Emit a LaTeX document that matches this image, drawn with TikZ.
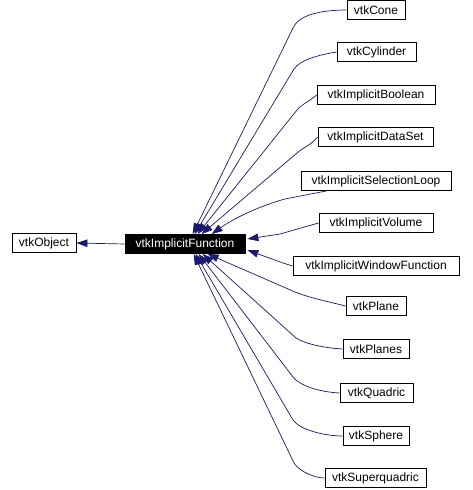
\documentclass[tikz,border=0pt]{standalone}
\usepackage{fontspec}
\setmainfont{Liberation Sans}
\usepackage{tikz}
\usetikzlibrary{arrows.meta}
\usetikzlibrary{calc}

\definecolor{edgeblue}{RGB}{25,25,112}

\begin{document}
\begin{tikzpicture}[x=1pt, y=-1pt,
        cls/.style={draw, line width=0.8pt, minimum height=19pt, inner sep=0pt, font=\fontsize{12}{14}\selectfont},
        edge/.style={draw=edgeblue, line width=0.7pt, {Triangle[length=11pt,width=7.5pt]}-}]
        \useasboundingbox[fill=white] (0,0) rectangle (472,490);

        \node[cls] (obj) at (44,243) [minimum width=64pt] {vtkObject};
        \node[cls, fill=black, text=white] (fn) at (185,244) [minimum width=120pt] {vtkImplicitFunction};

        \node[cls, minimum width=58pt] (cone) at (376,10) {vtkCone};
        \node[cls, minimum width=79pt] (cylinder) at (376.5,52) {vtkCylinder};
        \node[cls, minimum width=118pt] (boolean) at (376,95) {vtkImplicitBoolean};
        \node[cls, minimum width=115pt] (dataset) at (375.5,137) {vtkImplicitDataSet};
        \node[cls, minimum width=150pt] (selloop) at (376,181) {vtkImplicitSelectionLoop};
        \node[cls, minimum width=114pt] (volume) at (376,223) {vtkImplicitVolume};
        \node[cls, minimum width=166pt] (window) at (376,266) {vtkImplicitWindowFunction};
        \node[cls, minimum width=60pt] (plane) at (376,306) {vtkPlane};
        \node[cls, minimum width=66pt] (planes) at (376,349) {vtkPlanes};
        \node[cls, minimum width=73pt] (quadric) at (376.5,393) {vtkQuadric};
        \node[cls, minimum width=66pt] (sphere) at (376,436) {vtkSphere};
        \node[cls, minimum width=101pt] (superq) at (375.5,478) {vtkSuperquadric};

        % inheritance edges
        \draw[edge] (obj.east) -- (fn.west);

        \draw[edge] ($(fn.north west)+(68,0)$) -- (293,28) .. controls (298,16) and (318,10) .. (cone.west);
        \draw[edge] ($(fn.north west)+(70,0)$) -- (294,69) .. controls (300,60) and (318,55) .. (cylinder.west);
        \draw[edge] ($(fn.north west)+(73,0)$) -- (297,110) .. controls (302,104) and (310,101) .. (boolean.west);
        \draw[edge] ($(fn.north west)+(77,0)$) -- (297,153) .. controls (302,148) and (310,146) .. (dataset.west);
        \draw[edge] ($(fn.north west)+(87,0)$) .. controls (240,214) and (270,203) .. (285,199) -- ($(selloop.south west)+(26,0)$);
        \draw[edge] ($(fn.east)+(2,-5)$) -- (280,234) -- (volume.west);
        \draw[edge] ($(fn.east)+(2,6)$) -- (283,263) -- (window.west);

        \draw[edge] ($(fn.south west)+(83,0)$) -- (295,292) .. controls (310,298) and (330,302) .. (plane.west);
        \draw[edge] ($(fn.south west)+(78,0)$) -- (296,338) .. controls (305,344) and (325,348) .. (planes.west);
        \draw[edge] ($(fn.south west)+(74,0)$) -- (293,377) .. controls (300,386) and (320,392) .. (quadric.west);
        \draw[edge] ($(fn.south west)+(71,0)$) -- (293,420) .. controls (300,430) and (325,436) .. (sphere.west);
        \draw[edge] ($(fn.south west)+(69,0)$) -- (294,463) .. controls (300,472) and (315,478) .. (superq.west);
    \end{tikzpicture}
\end{document}
